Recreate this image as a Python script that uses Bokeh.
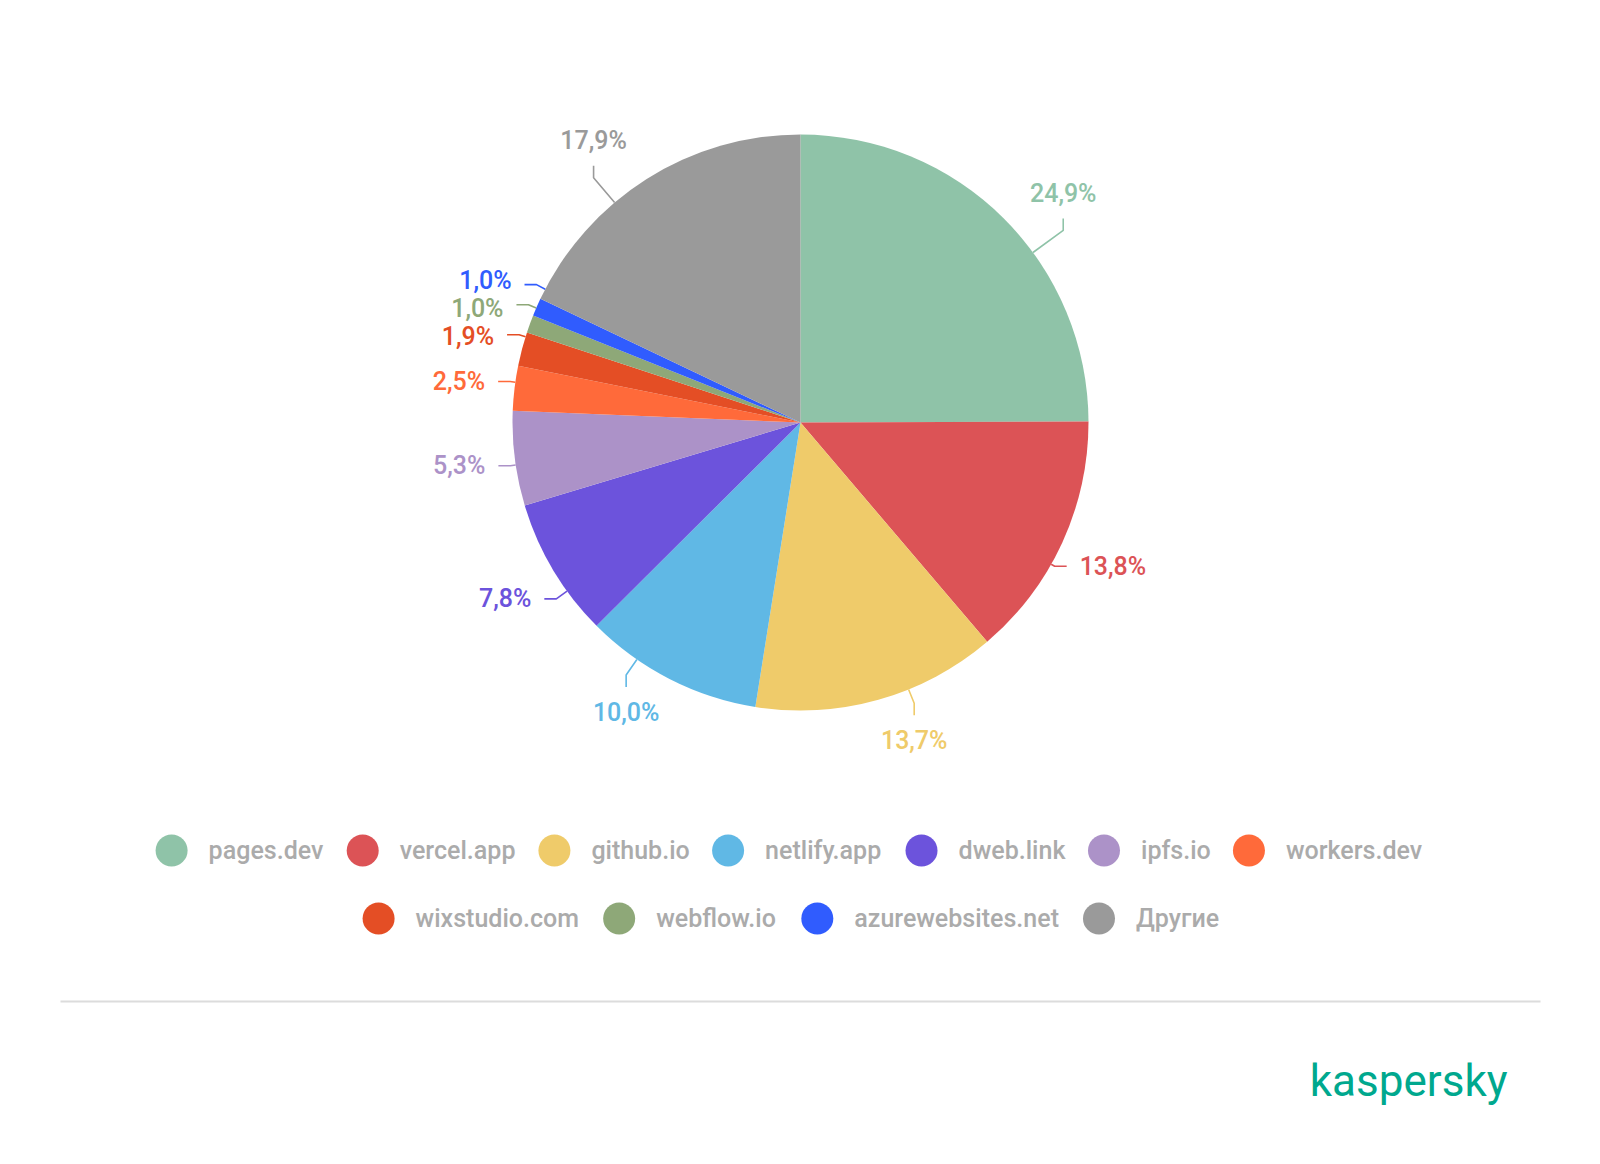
import math
from bokeh.plotting import figure
from bokeh.models import Range1d, ColumnDataSource
from bokeh.embed import file_html
from bokeh.resources import INLINE
from bokeh.core.properties import value

# ---------------- data ----------------
categories = ["pages.dev", "vercel.app", "github.io", "netlify.app", "dweb.link",
              "ipfs.io", "workers.dev", "wixstudio.com", "webflow.io",
              "azurewebsites.net", "Другие"]
shares = [24.9, 13.8, 13.7, 10.0, 7.8, 5.3, 2.5, 1.9, 1.0, 1.0, 17.9]
colors = ["#8fc3a8", "#dc5356", "#efcb6a", "#60b8e5", "#6c53dc", "#ac92c8",
          "#ff6a3a", "#e44e25", "#8ea878", "#305cfe", "#9a9a9a"]
legend_rows = [categories[:7], categories[7:]]
brand = "kaspersky"

# ---------------- layout constants ----------------
W, H = 1584, 1148
FONT = "Roboto Medium, Roboto"
FS = 25
CX, CY, R = 800, 422, 288          # screen px
LEG_Y = [850, 918]
LEG_TEXT = "#ababab"


def sy(y):  # screen y -> data y
    return H - y


CW = {'a': .544, 'b': .561, 'c': .523, 'd': .564, 'e': .530, 'f': .347, 'g': .561,
      'h': .551, 'i': .243, 'k': .507, 'l': .243, 'm': .876, 'n': .552, 'o': .570,
      'p': .561, 'r': .338, 's': .516, 't': .327, 'u': .551, 'v': .484, 'w': .751,
      'x': .496, 'y': .473, 'z': .496, '.': .263, ',': .196, '%': .733,
      'Д': .66, 'р': .561, 'у': .473, 'г': .37, 'и': .56, 'е': .53}


def tw(s, px=25.5):
    return sum(CW.get(ch, .562 if ch.isdigit() else .55) for ch in s) * px


p = figure(width=W, height=H, x_range=Range1d(0, W), y_range=Range1d(0, H),
           x_axis_type=None, y_axis_type=None, toolbar_location=None,
           output_backend="svg", min_border=0)
p.grid.visible = False
p.outline_line_color = None
p.background_fill_color = "white"

# ---------------- pie ----------------
total = sum(shares)
starts, ends, mids = [], [], []
cum = 0.0
for v in shares:
    f0, f1 = cum / total, (cum + v) / total
    starts.append(math.pi / 2 - 2 * math.pi * f0)
    ends.append(math.pi / 2 - 2 * math.pi * f1)
    mids.append((f0 + f1) / 2 * 2 * math.pi)   # clockwise from top
    cum += v

src = ColumnDataSource(dict(x=[CX] * len(shares), y=[sy(CY)] * len(shares),
                            s=starts, e=ends, c=colors))
p.wedge(x="x", y="y", radius=R, radius_units="screen", start_angle="s",
        end_angle="e", direction="clock", fill_color="c", line_color=None,
        source=src)

# ---------------- labels ----------------
label_txt = [("%.1f" % v).replace(".", ",") + "%" for v in shares]
items = []
for i, a in enumerate(mids):
    ux, uy = math.sin(a), -math.cos(a)
    horiz = abs(ux) > 0.8
    if not horiz:
        d = math.radians(4) * (1 if ux * (-uy) > 0 else -1)
        a2 = a + d
        ux, uy = math.sin(a2), -math.cos(a2)
        rl = 344 - 7 * uy
    else:
        rl = 344
    px_, py_ = CX + rl * ux, CY + rl * uy
    items.append(dict(i=i, ux=ux, uy=uy, horiz=horiz, px=px_, py=py_, ly=py_,
                      w=tw(label_txt[i])))

# de-overlap horizontal labels per side
for side in (-1, 1):
    grp = sorted([it for it in items if it["horiz"] and (it["ux"] > 0) == (side > 0)],
                 key=lambda t: t["ly"])
    for _ in range(60):
        for a_, b_ in zip(grp, grp[1:]):
            gap = b_["ly"] - a_["ly"]
            if gap < 28:
                sh = (28 - gap) / 2
                a_["ly"] -= sh
                b_["ly"] += sh

tx, ty, tt, tc, ta = [], [], [], [], []
lx, lyy, lc = [], [], []
for it in items:
    i = it["i"]
    if it["horiz"]:
        side = 1 if it["ux"] > 0 else -1
        edge = it["px"] - side * it["w"] / 2
        tx.append(edge)
        ty.append(sy(it["ly"]))
        ta.append("left" if side > 0 else "right")
        T = (edge - side * 13, it["py"])
        B = (T[0] - side * 12, T[1])
    else:
        vs = 1 if it["uy"] > 0 else -1
        tx.append(it["px"])
        ty.append(sy(it["py"]))
        ta.append("center")
        T = (it["px"], it["py"] - vs * 25)
        B = (T[0], T[1] - vs * 12)
    tt.append(label_txt[i])
    tc.append(colors[i])
    dx, dy = B[0] - CX, B[1] - CY
    dist = math.hypot(dx, dy)
    pts = [T, B]
    if dist > R:
        pts.append((CX + dx * R / dist, CY + dy * R / dist))
    lx.append([q[0] for q in pts])
    lyy.append([sy(q[1]) for q in pts])
    lc.append(colors[i])

p.multi_line(xs=lx, ys=lyy, line_color=lc, line_width=1.6)
p.text(x=tx, y=ty, text=tt, text_color=tc, text_align=ta, text_baseline="middle",
       text_font=value(FONT), text_font_size=f"{FS}px")

# ---------------- legend ----------------
DOT, DOT_TXT, GAP = 32, 53, 22
idx = 0
for row, yrow in zip(legend_rows, LEG_Y):
    widths = [DOT_TXT + tw(n) for n in row]
    total_w = sum(widths) + GAP * len(row)
    x0 = 800 - total_w / 2
    dx_, tx_, names, cols = [], [], [], []
    for n, wdt in zip(row, widths):
        dx_.append(x0 + DOT / 2)
        tx_.append(x0 + DOT_TXT)
        names.append(n)
        cols.append(colors[idx])
        idx += 1
        x0 += wdt + GAP
    p.scatter(x=dx_, y=[sy(yrow)] * len(row), size=DOT, marker="circle",
              fill_color=cols, line_color=None)
    p.text(x=tx_, y=[sy(yrow)] * len(row), text=names, text_color=LEG_TEXT,
           text_baseline="middle", text_align="left", text_font=value(FONT),
           text_font_size=f"{FS}px")

# ---------------- divider & brand ----------------
p.segment(x0=[60], y0=[sy(1001)], x1=[1540], y1=[sy(1001)],
          line_color="#dcdcdc", line_width=2)
p.text(x=[1507], y=[sy(1080)], text=[brand], text_color="#00a88e",
       text_align="right", text_baseline="alphabetic",
       text_font=value("Roboto"), text_font_size="44px")

open("out.html", "w").write(file_html(p, INLINE))
